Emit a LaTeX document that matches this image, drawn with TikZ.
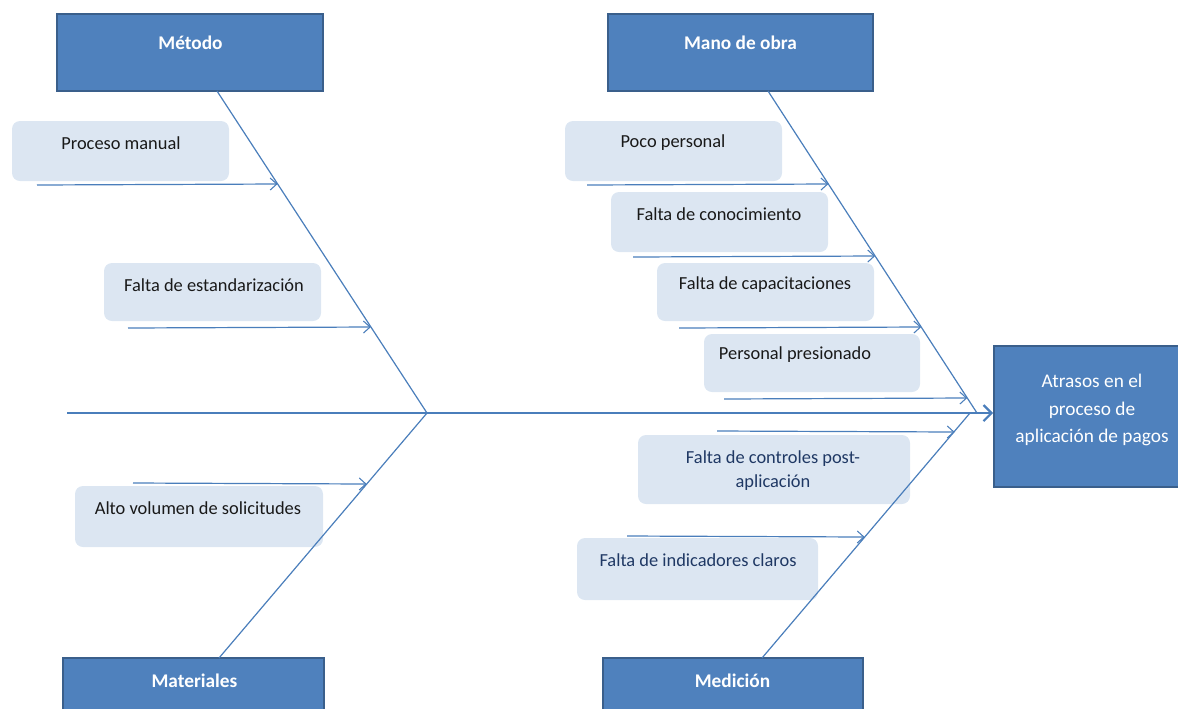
\documentclass[tikz,border=0pt]{standalone}
\usepackage{fontspec}
\setmainfont{Carlito}
\usetikzlibrary{arrows.meta}
\definecolor{boxblue}{HTML}{4F81BD}
\definecolor{boxedge}{HTML}{3A5F8B}
\definecolor{linecol}{HTML}{4A7EBB}
\definecolor{itemfill}{HTML}{DCE6F2}
\definecolor{navytext}{HTML}{1F3864}
\begin{document}
\begin{tikzpicture}[x=0.75pt,y=-0.75pt,
  catbox/.style={draw=boxedge, line width=1.5pt, fill=boxblue, inner sep=0pt},
  cattext/.style={text=white, font=\fontsize{14.5}{17}\selectfont\bfseries, inner sep=0pt},
  effecttext/.style={text=white, font=\fontsize{14.5}{20.6}\selectfont, align=center, inner sep=0pt},
  itembox/.style={fill=itemfill, rounded corners=6pt, inner sep=0pt},
  itemtext/.style={text=black!90, font=\fontsize{13.8}{18}\selectfont, inner sep=0pt},
  meastext/.style={text=navytext, font=\fontsize{13.8}{18}\selectfont, align=center, inner sep=0pt},
  bone/.style={draw=linecol, line width=0.9pt},
  subarrow/.style={draw=linecol, line width=0.9pt, -{Straight Barb[length=5pt,width=9pt,line width=0.8pt]}},
  spine/.style={draw=linecol, line width=2pt, -{Straight Barb[length=6pt,width=12pt,line width=1.6pt]}}]
\useasboundingbox (0,0) rectangle (1178,708);
\clip (0,0) rectangle (1178,708);

% category boxes
\node[catbox, minimum width=199.5pt, minimum height=57.75pt] (metodo) at (190,52.5) {};
\node[cattext] (metodoT) at (190.5,43) {Método};
\node[catbox, minimum width=198.75pt, minimum height=57.75pt] (mano) at (740.5,52.5) {};
\node[cattext] (manoT) at (740.5,43) {Mano de obra};
\node[catbox, minimum width=195.75pt, minimum height=57.75pt] (mat) at (193.5,696.5) {};
\node[cattext] (matT) at (194.5,681) {Materiales};
\node[catbox, minimum width=195pt, minimum height=57.75pt] (med) at (733,696.5) {};
\node[cattext] (medT) at (732.5,681) {Medición};

% effect box
\node[catbox, minimum width=147pt, minimum height=105.75pt] (effect) at (1092,416.5) {};
\node[effecttext] (effectT) at (1092,410) {Atrasos en el\\proceso de\\aplicación de pagos};

% cause boxes
\node[itembox, minimum width=162.75pt, minimum height=45pt] (pm) at (120.5,151) {};
\node[itemtext] (pmT) at (121,143) {Proceso manual};
\node[itembox, minimum width=162.75pt, minimum height=43.5pt] (fe) at (212.5,292) {};
\node[itemtext] (feT) at (214,285) {Falta de estandarización};
\node[itembox, minimum width=186pt, minimum height=45.75pt] (av) at (199,516.5) {};
\node[itemtext] (avT) at (198,508) {Alto volumen de solicitudes};

\node[itembox, minimum width=162.75pt, minimum height=45pt] (pp) at (673.5,151) {};
\node[itemtext] (ppT) at (673,143) {Poco personal};
\node[itembox, minimum width=162.75pt, minimum height=45pt] (fc) at (719.5,222) {};
\node[itemtext] (fcT) at (719,214) {Falta de conocimiento};
\node[itembox, minimum width=162.75pt, minimum height=43.5pt] (fca) at (765.5,292) {};
\node[itemtext] (fcaT) at (765,285) {Falta de capacitaciones};
\node[itembox, minimum width=162pt, minimum height=43.5pt] (pres) at (812,363) {};
\node[itemtext] (presT) at (795,355) {Personal presionado};

\node[itembox, minimum width=204pt, minimum height=51.75pt] (fcp) at (774,469.5) {};
\node[meastext] (fcpT) at (773,470.5) {Falta de controles post-\\aplicación};
\node[itembox, minimum width=180.75pt, minimum height=46.5pt] (fic) at (697.5,569) {};
\node[meastext] (ficT) at (698,560) {Falta de indicadores claros};

% bone coordinates
\coordinate (mTop) at (217,91);
\coordinate (jL) at (427,413);
\coordinate (matTop) at (219,658);
\coordinate (moTop) at (768,91);
\coordinate (jRu) at (977,413);
\coordinate (jRl) at (970,413);
\coordinate (medTop) at (762,658);
\coordinate (spineS) at (67,413);

% bones
\draw[bone] (mTop) -- (jL);
\draw[bone] (jL) -- (matTop);
\draw[bone] (moTop) -- (jRu);
\draw[bone] (jRl) -- (medTop);

% spine
\draw[spine] (spineS) -- (spineS -| effect.west);

% sub arrows
\coordinate (a1s) at (37,185);  \coordinate (a1e) at (277.6,184);
\coordinate (a2s) at (128,328); \coordinate (a2e) at (370.9,327);
\coordinate (a3s) at (133,483); \coordinate (a3e) at (366.7,484);
\coordinate (b1s) at (587,185); \coordinate (b1e) at (828.4,184);
\coordinate (b2s) at (633,257); \coordinate (b2e) at (875.2,256);
\coordinate (b3s) at (679,328); \coordinate (b3e) at (921.3,327);
\coordinate (b4s) at (724,399); \coordinate (b4e) at (967.3,398);
\coordinate (c1s) at (717,431); \coordinate (c1e) at (954.7,432);
\coordinate (c2s) at (627,536); \coordinate (c2e) at (864.7,537);

\draw[subarrow] (a1s) -- (a1e);
\draw[subarrow] (a2s) -- (a2e);
\draw[subarrow] (a3s) -- (a3e);
\draw[subarrow] (b1s) -- (b1e);
\draw[subarrow] (b2s) -- (b2e);
\draw[subarrow] (b3s) -- (b3e);
\draw[subarrow] (b4s) -- (b4e);
\draw[subarrow] (c1s) -- (c1e);
\draw[subarrow] (c2s) -- (c2e);
\end{tikzpicture}
\end{document}
